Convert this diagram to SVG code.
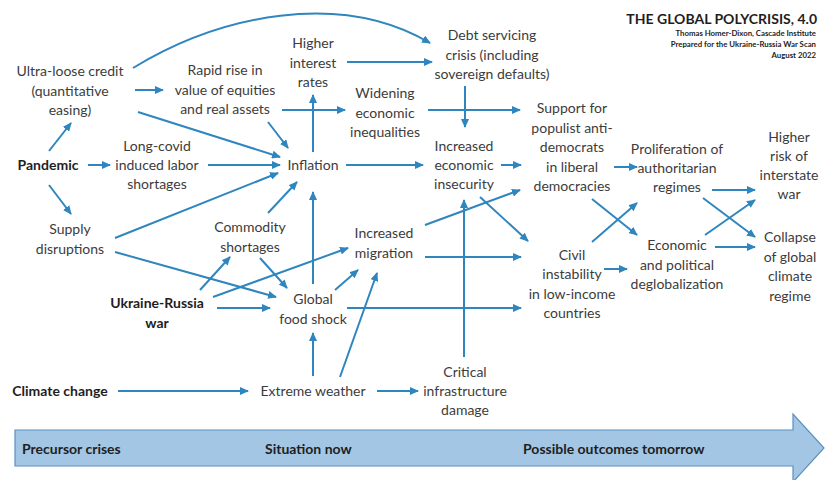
<svg xmlns="http://www.w3.org/2000/svg" width="825" height="480" viewBox="0 0 825 480">
<defs>
<marker id="ah" markerUnits="userSpaceOnUse" markerWidth="9" markerHeight="8" refX="8" refY="4" orient="auto">
<path d="M0,0 L9,4 L0,8 z" fill="#2f86bf"/>
</marker>
<style>
.t{font-family:Lato,"Liberation Sans",sans-serif;font-size:14px;fill:#3c3c3c;text-anchor:middle}
.b{font-weight:bold;fill:#1e1e1e}
.c{fill:none;stroke:#2f86bf;stroke-width:2;marker-end:url(#ah)}
.hd{font-family:Lato,"Liberation Sans",sans-serif;font-weight:bold;fill:#1e1e1e;text-anchor:end}
.bt{font-family:Lato,"Liberation Sans",sans-serif;font-weight:bold;font-size:14px;fill:#1e1e1e}
</style>
</defs>
<rect width="825" height="480" fill="#ffffff"/>

<g id="timeline">
<path d="M15,430 L793,430 L793,414 L824,448 L793,482 L793,466 L15,466 Z" fill="#a3c6e4" stroke="#5a8fbf" stroke-width="1.2"/>
<text class="bt" x="22" y="454">Precursor crises</text>
<text class="bt" x="265" y="454">Situation now</text>
<text class="bt" x="523" y="454">Possible outcomes tomorrow</text>
</g>

<g id="title">
<text class="hd" x="817" y="24" font-size="14">THE GLOBAL POLYCRISIS, 4.0</text>
<text class="hd" x="816" y="36" font-size="7.8">Thomas Homer-Dixon, Cascade Institute</text>
<text class="hd" x="816" y="47" font-size="7.8">Prepared for the Ukraine-Russia War Scan</text>
<text class="hd" x="816" y="58" font-size="7.8">August 2022</text>
</g>

<g id="connectors">
<path class="c" d="M133,68 C220,15 340,-10 430,43"/>
<path class="c" d="M135,90 L163,90"/>
<path class="c" d="M138,112 L280,157"/>
<path class="c" d="M282,110 L345,110"/>
<path class="c" d="M268,122 L288,148"/>
<path class="c" d="M313,152 L313,95"/>
<path class="c" d="M347,62 L432,62"/>
<path class="c" d="M428,110 L520,110"/>
<path class="c" d="M465,86 L465,127"/>
<path class="c" d="M346,165 L423,165"/>
<path class="c" d="M501,165 L521,165"/>
<path class="c" d="M49,151 L71,123"/>
<path class="c" d="M88,165 L110,165"/>
<path class="c" d="M208,165 L280,165"/>
<path class="c" d="M49,185 L71,214"/>
<path class="c" d="M115,238 L278,173"/>
<path class="c" d="M115,252 L276,297"/>
<path class="c" d="M200,290 L230,257"/>
<path class="c" d="M213,297 L348,248"/>
<path class="c" d="M217,308 L270,308"/>
<path class="c" d="M268,213 L297,182"/>
<path class="c" d="M260,258 L287,288"/>
<path class="c" d="M313,284 L313,192"/>
<path class="c" d="M335,290 L358,270"/>
<path class="c" d="M347,308 L521,308"/>
<path class="c" d="M425,257 L521,257"/>
<path class="c" d="M425,225 L520,190"/>
<path class="c" d="M480,197 L528,241"/>
<path class="c" d="M464,357 L464,200"/>
<path class="c" d="M313,376 L313,333"/>
<path class="c" d="M340,377 L377,273"/>
<path class="c" d="M377,391 L418,391"/>
<path class="c" d="M118,391 L248,391"/>
<path class="c" d="M614,167 L637,167"/>
<path class="c" d="M712,190 L755,190"/>
<path class="c" d="M592,199 L637,235"/>
<path class="c" d="M592,242 L637,203"/>
<path class="c" d="M604,269 L627,269"/>
<path class="c" d="M703,198 L755,237"/>
<path class="c" d="M705,235 L755,200"/>
<path class="c" d="M715,247 L755,247"/>
</g>

<g id="n-ultra"><text class="t" y="76"><tspan x="70">Ultra-loose credit</tspan><tspan x="70" dy="19.5">(quantitative</tspan><tspan x="70" dy="19.5">easing)</tspan></text></g>
<g id="n-rapid"><text class="t" y="75"><tspan x="225">Rapid rise in</tspan><tspan x="225" dy="19.5">value of equities</tspan><tspan x="225" dy="19.5">and real assets</tspan></text></g>
<g id="n-rates"><text class="t" y="48"><tspan x="313">Higher</tspan><tspan x="313" dy="19.5">interest</tspan><tspan x="313" dy="19.5">rates</tspan></text></g>
<g id="n-debt"><text class="t" y="40"><tspan x="492">Debt servicing</tspan><tspan x="492" dy="19.5">crisis (including</tspan><tspan x="492" dy="19.5">sovereign defaults)</tspan></text></g>
<g id="n-widening"><text class="t" y="98"><tspan x="385">Widening</tspan><tspan x="385" dy="19.5">economic</tspan><tspan x="385" dy="19.5">inequalities</tspan></text></g>
<g id="n-support"><text class="t" y="113"><tspan x="572">Support for</tspan><tspan x="572" dy="19.6">populist anti-</tspan><tspan x="572" dy="19.6">democrats</tspan><tspan x="572" dy="19.6">in liberal</tspan><tspan x="572" dy="19.6">democracies</tspan></text></g>
<g id="n-prolif"><text class="t" y="154"><tspan x="677">Proliferation of</tspan><tspan x="677" dy="19.2">authoritarian</tspan><tspan x="677" dy="19.2">regimes</tspan></text></g>
<g id="n-risk"><text class="t" y="142"><tspan x="789">Higher</tspan><tspan x="789" dy="19">risk of</tspan><tspan x="789" dy="19">interstate</tspan><tspan x="789" dy="19">war</tspan></text></g>
<g id="n-pandemic"><text class="t b" x="48" y="170">Pandemic</text></g>
<g id="n-longcovid"><text class="t" y="151"><tspan x="157">Long-covid</tspan><tspan x="157" dy="19.2">induced labor</tspan><tspan x="157" dy="19.2">shortages</tspan></text></g>
<g id="n-inflation"><text class="t" x="313" y="170">Inflation</text></g>
<g id="n-insecurity"><text class="t" y="151"><tspan x="464">Increased</tspan><tspan x="464" dy="19">economic</tspan><tspan x="464" dy="19">insecurity</tspan></text></g>
<g id="n-supply"><text class="t" y="234"><tspan x="70">Supply</tspan><tspan x="70" dy="19.5">disruptions</tspan></text></g>
<g id="n-commodity"><text class="t" y="232"><tspan x="250">Commodity</tspan><tspan x="250" dy="19.5">shortages</tspan></text></g>
<g id="n-migration"><text class="t" y="238"><tspan x="384">Increased</tspan><tspan x="384" dy="19.5">migration</tspan></text></g>
<g id="n-civil"><text class="t" y="260"><tspan x="572">Civil</tspan><tspan x="572" dy="19.3">instability</tspan><tspan x="572" dy="19.3">in low-income</tspan><tspan x="572" dy="19.3">countries</tspan></text></g>
<g id="n-deglob"><text class="t" y="250"><tspan x="677">Economic</tspan><tspan x="677" dy="19.5">and political</tspan><tspan x="677" dy="19.5">deglobalization</tspan></text></g>
<g id="n-collapse"><text class="t" y="242"><tspan x="790">Collapse</tspan><tspan x="790" dy="19.5">of global</tspan><tspan x="790" dy="19.5">climate</tspan><tspan x="790" dy="19.5">regime</tspan></text></g>
<g id="n-ukraine"><text class="t b" y="308"><tspan x="157">Ukraine-Russia</tspan><tspan x="157" dy="20">war</tspan></text></g>
<g id="n-food"><text class="t" y="304"><tspan x="313">Global</tspan><tspan x="313" dy="19.5">food shock</tspan></text></g>
<g id="n-climate"><text class="t b" x="60" y="396">Climate change</text></g>
<g id="n-extreme"><text class="t" x="313" y="396">Extreme weather</text></g>
<g id="n-critical"><text class="t" y="377"><tspan x="465">Critical</tspan><tspan x="465" dy="19">infrastructure</tspan><tspan x="465" dy="19">damage</tspan></text></g>
</svg>
